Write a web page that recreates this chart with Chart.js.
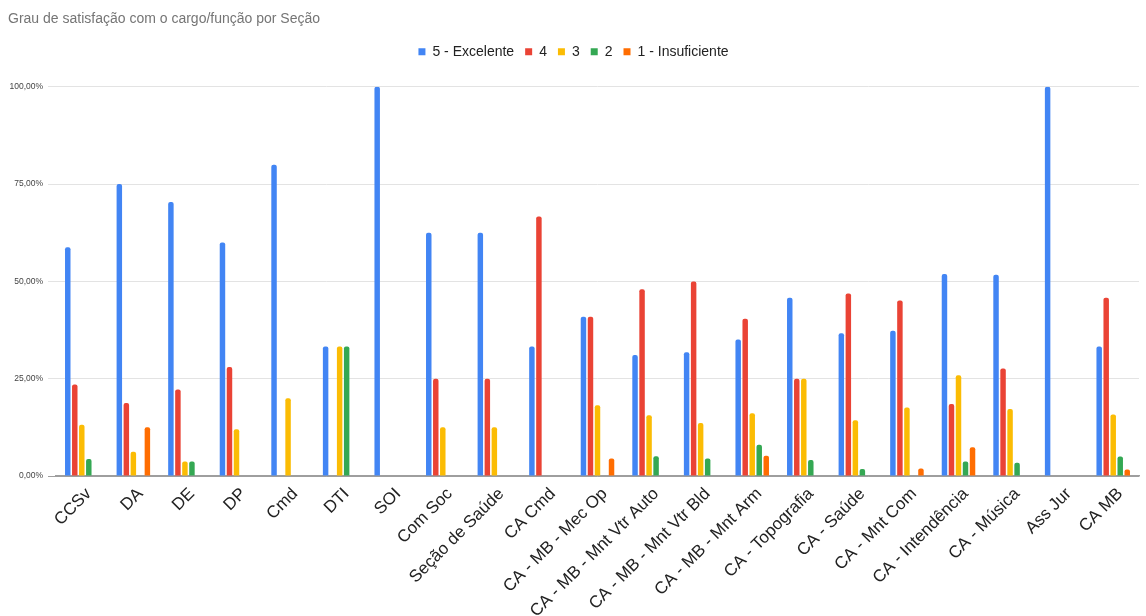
<!DOCTYPE html>
<html>
<head>
<meta charset="utf-8">
<script src="https://cdn.jsdelivr.net/npm/chart.js@4"></script>
<style>
  html, body { margin: 0; padding: 0; background: #fff; overflow: hidden; }
  #wrap { width: 1146px; height: 616px; position: relative; }
</style>
</head>
<body>
<div id="wrap"><canvas id="grafico"></canvas></div>
<script>
const secoes = ['CCSv', 'DA', 'DE', 'DP', 'Cmd', 'DTI', 'SOI', 'Com Soc', 'Seção de Saúde', 'CA Cmd',
    'CA - MB - Mec Op', 'CA - MB - Mnt Vtr Auto', 'CA - MB - Mnt Vtr Bld', 'CA - MB - Mnt Arm',
    'CA - Topografia', 'CA - Saúde', 'CA - Mnt Com', 'CA - Intendência', 'CA - Música', 'Ass Jur', 'CA MB']; // 21 seções

// valores em %
const nota5 = [58.8, 75, 70.4, 60, 80, 33.3, 100, 62.5, 62.5, 33.3, 40.9, 31.1, 31.8, 35.1, 45.8, 36.7, 37.3, 51.9, 51.7, 100, 33.3];
const nota4 = [23.5, 18.75, 22.2, 28, 0, 0, 0, 25, 25, 66.7, 40.9, 48.0, 50, 40.4, 25, 46.9, 45.1, 18.5, 27.6, 0, 45.8];
const nota3 = [13.2, 6.25, 3.7, 12, 20, 33.3, 0, 12.5, 12.5, 0, 18.2, 15.6, 13.6, 16.1, 25, 14.3, 17.6, 25.9, 17.2, 0, 15.8];
const nota2 = [4.4, 0, 3.7, 0, 0, 33.3, 0, 0, 0, 0, 0, 5.1, 4.5, 8.0, 4.1, 1.8, 0, 3.7, 3.4, 0, 5.0];
const nota1 = [0, 12.5, 0, 0, 0, 0, 0, 0, 0, 0, 4.5, 0, 0, 5.2, 0, 0, 1.9, 7.4, 0, 0, 1.7];

const yTicks = [0, 25, 50, 75, 100];

const fonte = "Arial, 'Liberation Sans', sans-serif";

function serie(label, cor, valores) {
    return {
        label: label,
        backgroundColor: cor,
        data: valores,
        borderRadius: { topLeft: 2, topRight: 2 },
        borderSkipped: 'bottom',
        categoryPercentage: 0.68,
        barPercentage: 0.78
    };
}

const data = {
    labels: secoes,
    datasets: [
        serie('5 - Excelente', '#4285F4', nota5),
        serie('4', '#EA4335', nota4),
        serie('3', '#FBBC04', nota3),
        serie('2', '#34A853', nota2),
        serie('1 - Insuficiente', '#FF6D01', nota1)
    ]
};

// espaço extra entre legenda e gráfico
const margemLegenda = {
    id: 'margemLegenda',
    beforeInit(chart) {
        const fitOriginal = chart.legend.fit;
        chart.legend.fit = function () {
            fitOriginal.bind(chart.legend)();
            this.height += 18;
        };
    }
};

const config = {
    type: 'bar',
    data: data,
    plugins: [margemLegenda],
    options: {
        responsive: true,
        maintainAspectRatio: false,
        animation: false,
        layout: { padding: { left: 8, right: 7, top: 0, bottom: 0 } },
        plugins: {
            title: {
                display: true,
                text: 'Grau de satisfação com o cargo/função por Seção',
                align: 'start',
                color: '#757575',
                font: { family: fonte, size: 14, weight: 'normal' },
                padding: { top: 11, bottom: 6 }
            },
            legend: {
                display: true,
                position: 'top',
                labels: {
                    usePointStyle: true,
                    pointStyle: 'rect',
                    boxWidth: 7,
                    boxHeight: 7,
                    padding: 11,
                    color: '#222',
                    font: { family: fonte, size: 14 }
                }
            },
            tooltip: { enabled: false }
        },
        scales: {
            x: {
                grid: { display: false },
                border: { display: true, color: '#9e9e9e', width: 1.5 },
                ticks: {
                    autoSkip: false,
                    maxRotation: 45,
                    minRotation: 45,
                    padding: 0,
                    labelOffset: 7,
                    color: '#222',
                    font: { family: fonte, size: 17 }
                },
                afterFit(scale) { scale.height = 140; }
            },
            y: {
                min: 0,
                max: 100,
                afterBuildTicks(scale) { scale.ticks = yTicks.map(v => ({ value: v })); },
                afterFit(scale) { scale.width = 48; },
                border: { display: false },
                grid: {
                    color: ctx => (ctx.tick && ctx.tick.value === 0) ? '#9e9e9e' : '#e3e3e3',
                    lineWidth: 1,
                    drawTicks: true,
                    tickLength: 8
                },
                ticks: {
                    padding: 5,
                    color: '#444',
                    font: { family: fonte, size: 8.5 },
                    callback: v => v.toFixed(2).replace('.', ',') + '%'
                }
            }
        }
    }
};

const grafico = new Chart(document.getElementById('grafico'), config);
</script>
</body>
</html>
